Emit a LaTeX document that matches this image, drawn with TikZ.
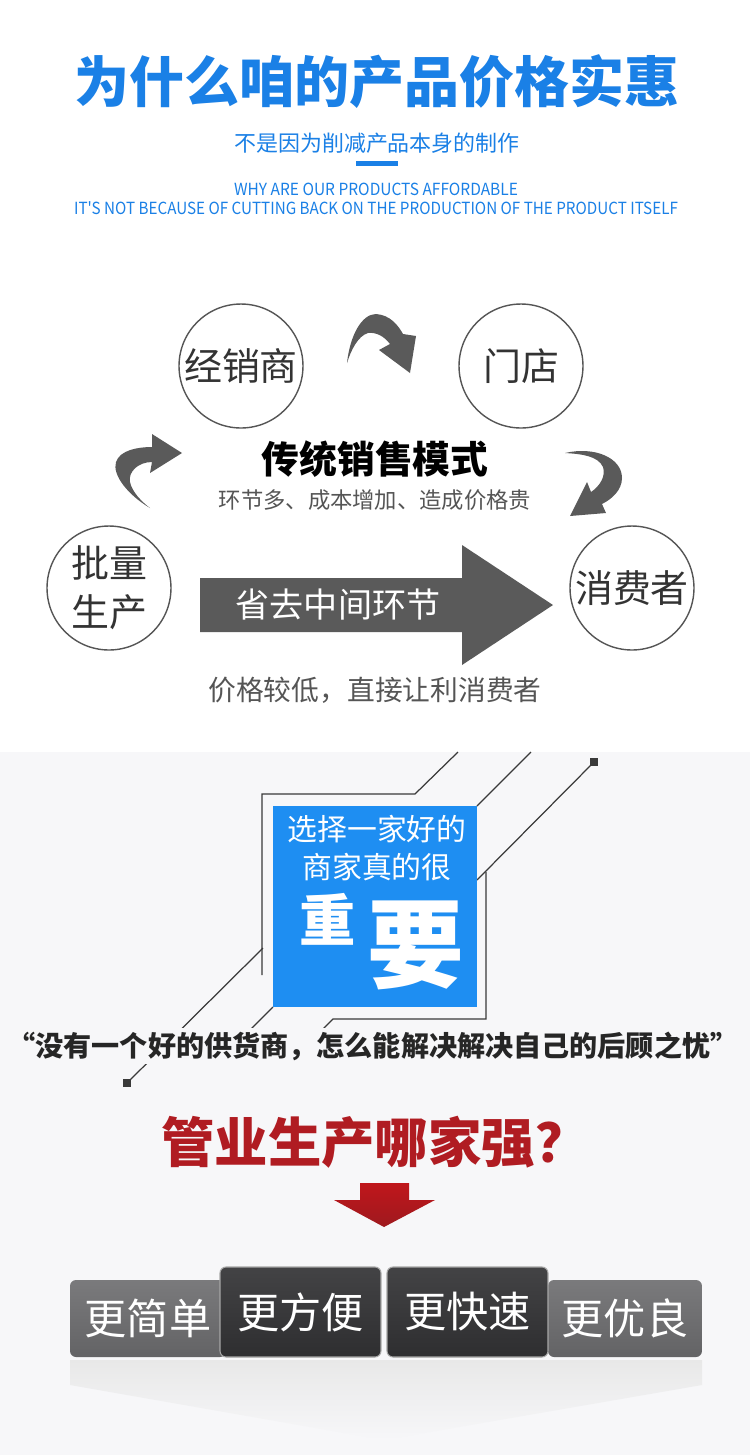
\documentclass[tikz,border=0pt]{standalone}
\usepackage{fontspec}
\usepackage{graphicx}
\newfontfamily\cjk{Noto Sans CJK SC}
\definecolor{titleblue}{HTML}{1A80E6}
\definecolor{boxblue}{HTML}{1E8EF2}
\definecolor{arrowgray}{HTML}{5A5A5A}
\definecolor{textgray}{HTML}{555555}
\definecolor{darktext}{HTML}{333333}
\definecolor{bgpanel}{HTML}{F7F7F9}
\definecolor{linegray}{HTML}{3A3A3A}
\definecolor{strongred}{HTML}{B01C22}
\definecolor{btnlight}{HTML}{636365}
\definecolor{btnlighttop}{HTML}{7A7A7C}
\definecolor{btndark}{HTML}{2E2E30}
\definecolor{btndarktop}{HTML}{434345}
\begin{document}
\begin{tikzpicture}[x=0.02cm,y=-0.02cm,
	every node/.style={font=\cjk,inner sep=0pt},
	stage/.style={circle,draw=textgray,line width=0.8pt,minimum size=2.48cm,text=darktext,align=center,font=\cjk\fontsize{21.6}{28}\selectfont},
	tag/.style={rounded corners=0.12cm,text=white,font=\cjk\fontsize{24}{28}\selectfont},
	frame line/.style={linegray,line width=0.7pt}]
	\fill[white] (0,0) rectangle (750,752);
	\fill[bgpanel] (0,752) rectangle (750,1455);
	\useasboundingbox (0,0) rectangle (750,1455);
	% heading
	\node[text=titleblue,font=\cjk\bfseries\fontsize{31.3}{34}\selectfont] (title) at (377,82) {为什么咱的产品价格实惠};
	\node[text=titleblue,font=\cjk\fontsize{12.5}{14}\selectfont] (subtitle) at (377,143) {不是因为削减产品本身的制作};
	\fill[titleblue] (356,161) rectangle (398,166);
	\node[text=titleblue] (why) at (376,189) {\resizebox{5.68cm}{\height}{\fontsize{9.5}{11}\selectfont WHY ARE OUR PRODUCTS AFFORDABLE}};
	\node[text=titleblue] (notcut) at (376,208) {\resizebox{12.08cm}{\height}{\fontsize{9.5}{11}\selectfont IT'S NOT BECAUSE OF CUTTING BACK ON THE PRODUCTION OF THE PRODUCT ITSELF}};
	% traditional chain
	\node[stage] (dealer) at (241,366) {经销商};
	\node[stage] (store) at (521,366) {门店};
	\node[stage] (factory) at (109,588) {批量\\生产};
	\node[stage] (buyer) at (632,588) {消费者};
	\fill[arrowgray] (347,363) .. controls (350,335) and (362,314) .. (376,314) .. controls (390,315) and (398,325) .. (403,334) -- (416,336) -- (410,373) -- (379,350) -- (390,344) .. controls (384,336) and (376,332) .. (368,333) .. controls (358,336) and (351,350) .. cycle;
	\fill[arrowgray] (150,508) .. controls (128,495) and (112,475) .. (116,462) .. controls (120,450) and (138,447) .. (152,447) -- (152,434) -- (182,453) -- (150,473) -- (152,462) .. controls (138,462) and (128,472) .. (130,482) .. controls (132,492) and (142,502) .. cycle;
	\fill[arrowgray] (565,453) .. controls (595,446) and (622,458) .. (622,478) .. controls (622,490) and (612,499) .. (602,504) -- (606,513) -- (570,516) -- (587,482) -- (591,492) .. controls (600,486) and (606,476) .. (603,467) .. controls (598,456) and (582,454) .. cycle;
	\node[font=\cjk\bfseries\fontsize{21.5}{24}\selectfont] (oldmode) at (375,459) {传统销售模式};
	\node[text=textgray,font=\cjk\fontsize{12.7}{14}\selectfont] (oldnote) at (375,500) {环节多、成本增加、造成价格贵};
	% direct route
	\fill[arrowgray] (200,578) -- (462,578) -- (462,545) -- (553,605) -- (462,665) -- (462,632) -- (200,632) -- cycle;
	\node[text=white,font=\cjk\fontsize{19.4}{22}\selectfont] (shortcut) at (338,605) {省去中间环节};
	\node[text=textgray,font=\cjk\fontsize{15.8}{18}\selectfont] (newnote) at (375,690) {价格较低，直接让利消费者};
	% frame lines round the blue box
	\draw[frame line] (458,752) -- (415,794) -- (262,794) -- (262,975);
	\draw[frame line] (531,752) -- (477,806);
	\draw[frame line] (594,762) -- (477,880);
	\draw[frame line] (486,872) -- (486,1019) -- (333,1019) -- (318,1034);
	\draw[frame line] (263,948) -- (127,1083);
	\draw[frame line] (273,1007) -- (250,1030);
	\fill[linegray] (590,758) rectangle (598,766);
	\fill[linegray] (123,1079) rectangle (131,1087);
	\node[fill=boxblue,minimum width=4.08cm,minimum height=4.02cm] (pick) at (375,906.5) {};
	\node[text=white,font=\cjk\fontsize{17}{20}\selectfont] (pickA) at (377,829) {选择一家好的};
	\node[text=white,font=\cjk\fontsize{17}{20}\selectfont] (pickB) at (377,867) {商家真的很};
	\node[text=white,font=\cjk\bfseries\fontsize{32}{34}\selectfont] (heavy) at (328,919) {重};
	\node[text=white,font=\cjk\bfseries\fontsize{55}{58}\selectfont] (vital) at (416,945) {要};
	\node[fill=bgpanel,inner ysep=2pt,text=black!85,font=\cjk\bfseries\fontsize{16}{18}\selectfont] (quote) at (373,1046) {“没有一个好的供货商，怎么能解决解决自己的后顾之忧”};
	% who does it best
	\node[text=strongred,font=\cjk\bfseries\fontsize{30.4}{34}\selectfont] (which) at (375,1142) {管业生产哪家强？};
	\shade[top color=strongred!80!red,bottom color=strongred!90!black] (360,1183) -- (409,1183) -- (409,1200) -- (435,1200) -- (384,1227) -- (334,1200) -- (360,1200) -- cycle;
	\shade[top color=gray!18,bottom color=bgpanel] (70,1360) -- (702,1360) -- (702,1385) -- (384,1440) -- (70,1385) -- cycle;
	\node[tag,top color=btnlighttop,bottom color=btnlight,minimum width=3.12cm,minimum height=1.54cm] (simple) at (148,1318.5) {更简单};
	\node[tag,top color=btnlighttop,bottom color=btnlight,minimum width=3.08cm,minimum height=1.54cm] (better) at (625,1318.5) {更优良};
	\node[tag,draw=gray!70,line width=0.6pt,top color=btndarktop,bottom color=btndark,minimum width=3.22cm,minimum height=1.8cm] (handy) at (300.5,1312) {更方便};
	\node[tag,draw=gray!70,line width=0.6pt,top color=btndarktop,bottom color=btndark,minimum width=3.22cm,minimum height=1.8cm] (quick) at (467.5,1312) {更快速};
\end{tikzpicture}
\end{document}
